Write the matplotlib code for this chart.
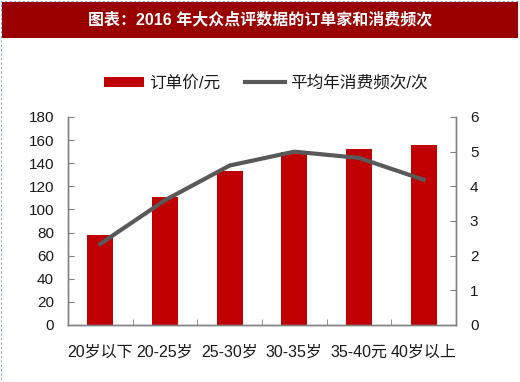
import matplotlib
matplotlib.use("Agg")
import matplotlib.pyplot as plt
from matplotlib.patches import Rectangle

plt.rcParams['font.family'] = ['Liberation Sans', 'Noto Sans CJK SC', 'DejaVu Sans']

categories = ['20岁以下', '20-25岁', '25-30岁', '30-35岁', '35-40元', '40岁以上']
order_price = [78, 111, 133.5, 150, 152, 156]
frequency = [2.34, 3.6, 4.6, 5.0, 4.82, 4.19]
title = '图表：2016 年大众点评数据的订单家和消费频次'
bar_label = '订单价/元'
line_label = '平均年消费频次/次'

fig = plt.figure(figsize=(5.2, 3.82), dpi=100)
fig.patch.set_facecolor('white')

# title band
fig.patches.append(Rectangle((2/520, 1 - 38/382), 516/520, 36/382, transform=fig.transFigure,
                             facecolor='#990000', edgecolor='none', zorder=0))
fig.text(0.5, 1 - 20/382, title, color='white', fontsize=11.5, fontweight='bold',
         ha='center', va='center')
# dashed border
fig.patches.append(Rectangle((0.5/520, 0.5/382), 519/520, 381/382, transform=fig.transFigure,
                             facecolor='none', edgecolor='#8fa8d8', linestyle=(0, (2, 2)), lw=0.8))

ax = fig.add_axes([68/520, 1 - 325/382, 388/520, 208/382])
x = list(range(len(categories)))
ax.bar(x, order_price, width=0.4, color='#C00000', zorder=2, label=bar_label)
ax.set_xlim(-0.5, 5.5)
ax.set_ylim(0, 180)
ax.set_yticks(range(0, 181, 20))
ax.set_xticks(x)
ax.set_xticklabels(categories, fontsize=11.5)
ax.set_xticks([i + 0.5 for i in range(len(categories) - 1)], minor=True)
ax.tick_params(axis='x', which='major', length=0, pad=14, colors='#1a1a1a')
ax.tick_params(axis='x', which='minor', length=4, direction='in', color='#808080')
ax.tick_params(axis='y', direction='in', length=4, color='#808080', labelsize=11, pad=10,
               labelcolor='#1a1a1a')

ax2 = ax.twinx()
ax2.plot(x, frequency, color='#595959', lw=3, label=line_label, zorder=3)
ax2.set_ylim(0, 6)
ax2.set_yticks(range(0, 7))
ax2.tick_params(axis='y', direction='in', length=4, color='#808080', labelsize=11, pad=10,
                labelcolor='#1a1a1a')

for a in (ax, ax2):
    a.spines['top'].set_visible(False)
    for s in ('left', 'right', 'bottom'):
        a.spines[s].set_color('#808080')
        a.spines[s].set_linewidth(1)
    a.set_facecolor('none')

h1, l1 = ax.get_legend_handles_labels()
h2, l2 = ax2.get_legend_handles_labels()
leg = fig.legend(h1 + h2, l1 + l2, loc='center', bbox_to_anchor=(266/520, 1 - 83/382), ncol=2,
                 frameon=False, fontsize=12, handlelength=2.4, handleheight=0.5,
                 columnspacing=1.5, handletextpad=0.3)
for t in leg.get_texts():
    t.set_color('#1a1a1a')

fig.savefig('out.png', dpi=100)
